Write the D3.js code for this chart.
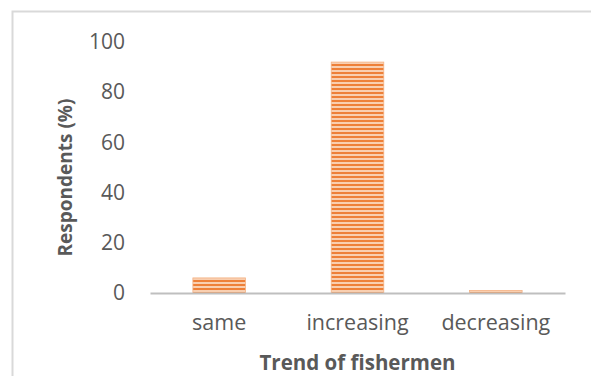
<!DOCTYPE html>
<html>
<head>
<meta charset="utf-8">
<script src="https://cdn.jsdelivr.net/npm/d3@7"></script>
<style>
  body { margin: 0; background: #fff; }
  text { font-family: "Open Sans", "Noto Sans", sans-serif; fill: #595959; }
</style>
</head>
<body>
<svg id="chart"></svg>
<script>
const width = 591;
const height = 376;

// data
const categories = ["same", "increasing", "decreasing"];
const values = [6, 92, 1];
const yTicks = [0, 20, 40, 60, 80, 100];

const margin = { top: 42, right: 26, bottom: 83, left: 150 };

const svg = d3.select("#chart")
  .attr("width", width)
  .attr("height", height);

// chart border
svg.append("path")
  .attr("d", `M12.5,${height} V11.5 H${width}`)
  .attr("fill", "none")
  .attr("stroke", "#d9d9d9")
  .attr("stroke-width", 2);

// striped fill like the reference
const defs = svg.append("defs");
const pat = defs.append("pattern")
  .attr("id", "stripes")
  .attr("patternUnits", "userSpaceOnUse")
  .attr("width", 8)
  .attr("height", 4);
pat.append("rect").attr("width", 8).attr("height", 4).attr("fill", "#f9cfb0");
pat.append("rect").attr("width", 8).attr("height", 2).attr("fill", "#ee8038");

const x = d3.scaleBand()
  .domain(categories)
  .range([margin.left, width - margin.right])
  .paddingInner(0.62)
  .paddingOuter(0.31);

const y = d3.scaleLinear()
  .domain([0, 100])
  .range([height - margin.bottom, margin.top]);

// bars
svg.selectAll(".bar")
  .data(categories)
  .enter().append("rect")
  .attr("class", "bar")
  .attr("x", d => x(d))
  .attr("y", (d, i) => y(values[i]))
  .attr("width", x.bandwidth())
  .attr("height", (d, i) => y(0) - y(values[i]))
  .attr("fill", "url(#stripes)")
  .attr("stroke", "#f4b183")
  .attr("stroke-width", 0.8);

// y axis labels (no line)
const yAxis = svg.append("g")
  .attr("transform", `translate(${margin.left - 25},0)`)
  .call(d3.axisLeft(y).tickValues(yTicks).tickSize(0).tickPadding(0));
yAxis.select(".domain").remove();
yAxis.selectAll("text")
  .attr("font-size", 21)
  .style("font-family", null);

// x axis
const xAxis = svg.append("g")
  .attr("transform", `translate(0,${y(0)})`)
  .call(d3.axisBottom(x).tickSize(0).tickPadding(22));
xAxis.select(".domain")
  .attr("stroke", "#bfbfbf")
  .attr("stroke-width", 2.2);
xAxis.selectAll("text")
  .attr("font-size", 21.5)
  .style("font-family", null);

// axis titles
svg.append("text")
  .attr("x", (margin.left + width - margin.right) / 2)
  .attr("y", 370)
  .attr("text-anchor", "middle")
  .attr("font-size", 20.5)
  .attr("font-weight", "bold")
  .text("Trend of fishermen");

svg.append("text")
  .attr("transform", `translate(72,${(y(0) + y(100)) / 2 + 10}) rotate(-90)`)
  .attr("text-anchor", "middle")
  .attr("font-size", 19)
  .attr("font-weight", "bold")
  .text("Respondents (%)");
</script>
</body>
</html>
